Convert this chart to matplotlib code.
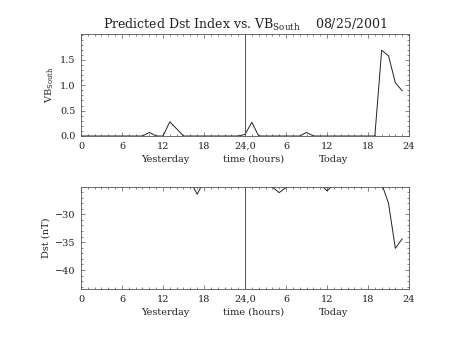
import matplotlib
matplotlib.use("Agg")
import matplotlib.pyplot as plt
from matplotlib.ticker import MultipleLocator, FixedLocator, FixedFormatter

# hourly data, yesterday 0-23 then today 24-47
hours = list(range(48))
vb_south = [0, 0, 0, 0, 0, 0, 0, 0, 0, 0,
            0.07, 0, 0, 0.28, 0.14, 0, 0, 0, 0, 0,
            0, 0, 0, 0, 0.03, 0.27, 0, 0, 0, 0,
            0, 0, 0, 0.07, 0, 0, 0, 0, 0, 0,
            0, 0, 0, 0, 1.69, 1.58, 1.05, 0.89]
dst = [-22, -22, -23, -23, -23, -24, -24, -24, -25.1, -24,
       -23, -23, -22, -22, -23, -24, -24, -26.4, -24, -23,
       -22, -22, -22, -23, -23, -24, -24, -24.5, -25.1, -26.1,
       -25.2, -24.5, -24, -24, -24, -24.5, -25.8, -24.6, -23, -23,
       -23, -23, -23.5, -24, -24.5, -28.0, -36.1, -34.4]

xtick_pos = [0, 6, 12, 18, 24, 30, 36, 42, 48]
xtick_lab = ["0", "6", "12", "18", "24,0", "6", "12", "18", "24"]
vb_ticks = [0.0, 0.5, 1.0, 1.5]
dst_ticks = [-40, -35, -30]

plt.rcParams['font.family'] = ['DejaVu Serif']
plt.rcParams['mathtext.fontset'] = 'dejavuserif'

fig = plt.figure(figsize=(4.54, 3.41), dpi=100)
ax1 = fig.add_axes([0.1784, 0.6012, 0.7225, 0.2991])
ax2 = fig.add_axes([0.1784, 0.1525, 0.7225, 0.2982])

lc = '#222222'
fs = 7

def style_axis(ax):
    ax.set_xlim(0, 48)
    ax.xaxis.set_major_locator(FixedLocator(xtick_pos))
    ax.xaxis.set_major_formatter(FixedFormatter(xtick_lab))
    ax.xaxis.set_minor_locator(MultipleLocator(1))
    ax.tick_params(which='both', direction='in', top=True, right=True,
                   width=0.5, colors='#555555', labelcolor='#222222',
                   labelsize=fs, pad=4)
    ax.tick_params(which='major', length=3)
    ax.tick_params(which='minor', length=1.5)
    for s in ax.spines.values():
        s.set_linewidth(0.6)
        s.set_color('#555555')
    ax.axvline(24, color='#555555', lw=0.7)
    for xpos, txt in [(12.4, "Yesterday"), (25.2, "time (hours)"), (37.0, "Today")]:
        ax.text(xpos, -0.23, txt, transform=ax.get_xaxis_transform(),
                ha='center', va='center', fontsize=fs, color='#222222')

# top panel: VB south
ax1.plot(hours, vb_south, color=lc, lw=0.7)
ax1.set_ylim(0, 2.01)
ax1.yaxis.set_major_locator(FixedLocator(vb_ticks))
ax1.yaxis.set_minor_locator(MultipleLocator(0.1))
ax1.yaxis.set_major_formatter(plt.FormatStrFormatter('%.1f'))
style_axis(ax1)
ax1.set_ylabel(r"VB$_{\mathrm{South}}$", fontsize=fs, color='#222222', labelpad=3)
ax1.set_title(r"Predicted Dst Index vs. VB$_{\mathrm{South}}$    08/25/2001",
              fontsize=9, color='#222222', pad=4)

# bottom panel: Dst
ax2.plot(hours, dst, color=lc, lw=0.7)
ax2.set_ylim(-43.4, -25.15)
ax2.yaxis.set_major_locator(FixedLocator(dst_ticks))
ax2.yaxis.set_minor_locator(MultipleLocator(1))
style_axis(ax2)
ax2.set_ylabel("Dst (nT)", fontsize=fs, color='#222222', labelpad=3)

fig.savefig("out.png", dpi=100)
